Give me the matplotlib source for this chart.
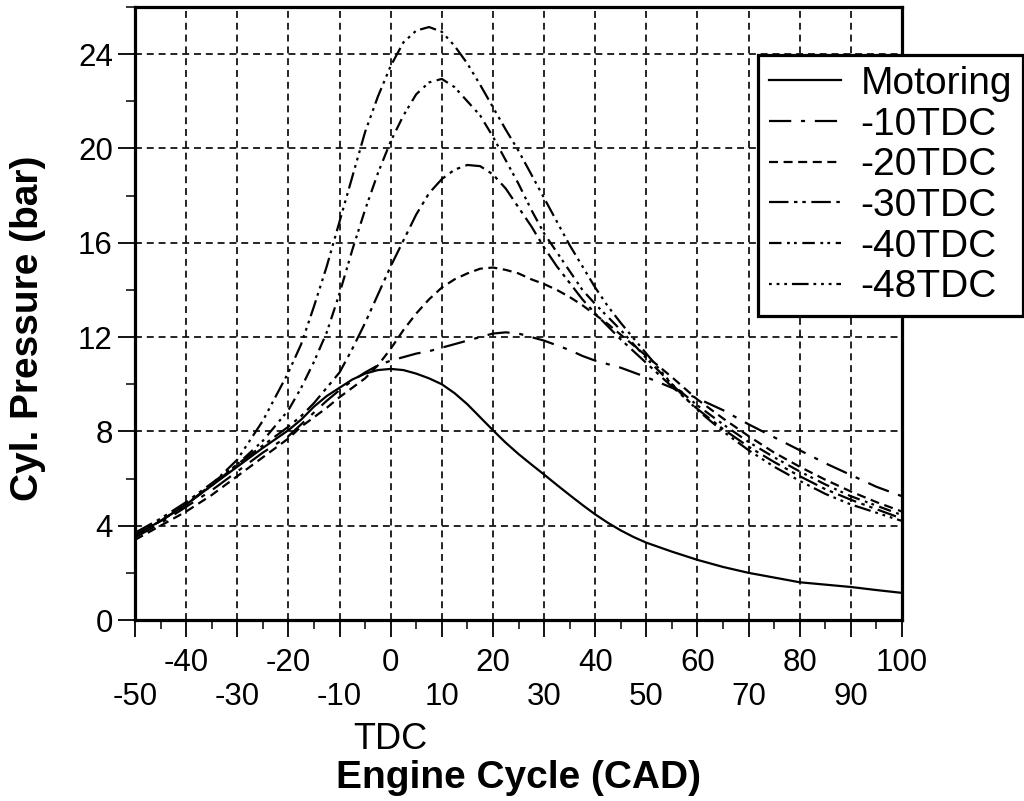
import matplotlib
matplotlib.use('Agg')
import matplotlib.pyplot as plt
from matplotlib.ticker import MultipleLocator
from matplotlib.transforms import ScaledTranslation, blended_transform_factory

plt.rcParams['font.family'] = ['Liberation Sans', 'DejaVu Sans']
plt.rcParams['lines.scale_dashes'] = False

# crank angle (CAD) shared by all curves
cad = [-50, -45, -40, -35, -30, -25, -20, -17.5, -15, -12.5, -10, -7.5, -5, -2.5,
       0, 2.5, 5, 7.5, 10, 12.5, 15, 17.5, 20, 22.5, 25, 27.5, 30, 32.5, 35, 37.5,
       40, 42.5, 45, 47.5, 50, 55, 60, 65, 70, 75, 80, 85, 90, 95, 100]

motoring = [3.6, 4.2, 4.9, 5.7, 6.5, 7.3, 8.05, 8.5, 9.05, 9.5, 9.85, 10.2, 10.45, 10.6,
            10.65, 10.6, 10.45, 10.25, 10.0, 9.62, 9.15, 8.6, 8.05, 7.52, 7.04, 6.6, 6.17, 5.73, 5.3, 4.88,
            4.48, 4.12, 3.8, 3.52, 3.28, 2.9, 2.55, 2.25, 2.0, 1.8, 1.6, 1.5, 1.4, 1.27, 1.15]

tdc10 = [3.5, 4.1, 4.8, 5.5, 6.3, 7.1, 7.8, 8.3, 8.8, 9.3, 9.75, 10.15, 10.5, 10.8,
         11.0, 11.15, 11.3, 11.4, 11.55, 11.7, 11.85, 12.0, 12.15, 12.2, 12.15, 12.0, 11.85, 11.65, 11.45, 11.2,
         11.0, 10.85, 10.7, 10.5, 10.3, 9.85, 9.4, 8.9, 8.3, 7.75, 7.2, 6.65, 6.15, 5.65, 5.25]

tdc20 = [3.4, 4.0, 4.6, 5.3, 6.1, 6.9, 7.7, 8.2, 8.6, 9.0, 9.45, 9.85, 10.25, 10.8,
         11.5, 12.3, 13.0, 13.6, 14.1, 14.45, 14.7, 14.9, 14.95, 14.85, 14.7, 14.45, 14.25, 14.0, 13.7, 13.35,
         12.95, 12.55, 12.1, 11.65, 11.2, 10.3, 9.35, 8.55, 7.8, 7.1, 6.5, 5.95, 5.45, 5.0, 4.6]

tdc30 = [3.7, 4.3, 5.0, 5.8, 6.6, 7.4, 8.2, 8.65, 9.2, 9.85, 10.5, 11.5, 12.6, 13.8,
         15.0, 16.1, 17.2, 18.1, 18.7, 19.1, 19.3, 19.25, 18.9, 18.3, 17.5, 16.7, 15.8, 15.0, 14.3, 13.6,
         13.0, 12.45, 11.9, 11.4, 10.9, 9.9, 8.95, 8.1, 7.35, 6.7, 6.1, 5.55, 5.1, 4.7, 4.3]

tdc40 = [3.6, 4.2, 4.9, 5.7, 6.6, 7.6, 8.9, 9.85, 10.95, 12.2, 13.85, 15.7, 17.4, 18.95,
         20.3, 21.4, 22.3, 22.8, 22.95, 22.6, 22.0, 21.4, 20.5, 19.5, 18.5, 17.4, 16.4, 15.6, 14.8, 14.0,
         13.4, 12.85, 12.3, 11.7, 11.1, 10.0, 9.1, 8.3, 7.55, 6.9, 6.3, 5.75, 5.25, 4.85, 4.45]

tdc48 = [3.6, 4.2, 4.9, 5.75, 6.8, 8.45, 10.5, 11.7, 13.3, 15.0, 16.9, 18.8, 20.7, 22.2,
         23.5, 24.5, 25.0, 25.15, 24.95, 24.35, 23.6, 22.7, 21.75, 20.8, 19.9, 18.9, 17.9, 16.9, 15.9, 15.0,
         14.1, 13.3, 12.6, 11.95, 11.3, 10.0, 8.9, 8.0, 7.2, 6.5, 5.9, 5.35, 4.9, 4.55, 4.2]

labels = ['Motoring', '-10TDC', '-20TDC', '-30TDC', '-40TDC', '-48TDC']
series = [motoring, tdc10, tdc20, tdc30, tdc40, tdc48]
styles = ['-',
          (0, (16, 7, 3, 7)),
          (0, (6.5, 4)),
          (0, (14, 4, 2.5, 3.5, 2.5, 4)),
          (0, (9, 4, 2, 3, 2, 4)),
          (0, (2, 3.5, 2, 3.5, 2, 3.5, 12, 3.5))]

xticks = list(range(-50, 101, 10))
yticks = list(range(0, 25, 4))

fig = plt.figure(figsize=(10.24, 8.01), dpi=100)
ax = fig.add_axes([135 / 1024, 181 / 801, 767 / 1024, 613 / 801])

for vals, lab, ls in zip(series, labels, styles):
    ax.plot(cad, vals, color='black', linestyle=ls, linewidth=1.6, label=lab)

ax.set_xlim(-50, 100)
ax.set_ylim(0, 26)

# grid
ax.grid(True, which='major', color='black', linestyle=(0, (5, 3.5)), linewidth=1.2)

# ticks
ax.set_xticks(xticks)
ax.set_xticklabels([str(t) for t in xticks])
ax.xaxis.set_minor_locator(MultipleLocator(5))
ax.set_yticks(yticks)
ax.set_yticklabels([str(t) for t in yticks])
ax.yaxis.set_minor_locator(MultipleLocator(2))
ax.tick_params(which='major', direction='out', length=12, width=1.3, labelsize=22.5, color='black')
ax.tick_params(which='minor', direction='out', length=6.5, width=1.1)
ax.tick_params(axis='x', which='major', pad=8)
ax.tick_params(axis='y', which='major', pad=4)

# staggered x tick labels: odd tens on a second row
shift = ScaledTranslation(0, -0.34, fig.dpi_scale_trans)
for t, lab in zip(xticks, ax.get_xticklabels()):
    if (t // 10) % 2 != 0:
        lab.set_transform(lab.get_transform() + shift)

for sp in ax.spines.values():
    sp.set_linewidth(2.3)

# labels
trans = blended_transform_factory(ax.transData, ax.transAxes)
ax.text(0, -0.195, 'TDC', transform=trans, ha='center', va='center', fontsize=26)
ax.text(25, -0.258, 'Engine Cycle (CAD)', transform=trans, ha='center', va='center',
        fontsize=28, fontweight='bold')
fig.text(28 / 1024, 1 - 328 / 801, 'Cyl. Pressure (bar)', rotation=90, ha='center', va='center',
         fontsize=28, fontweight='bold')

leg = ax.legend(loc='upper left', bbox_to_anchor=(758 / 1024, 1 - 55 / 801),
                bbox_transform=fig.transFigure, fontsize=28, handlelength=1.85,
                handletextpad=0.5, labelspacing=0.12, borderpad=0.28, borderaxespad=0,
                fancybox=False, framealpha=1, edgecolor='black')
leg.get_frame().set_linewidth(2.3)

fig.savefig('out.png', dpi=100)
